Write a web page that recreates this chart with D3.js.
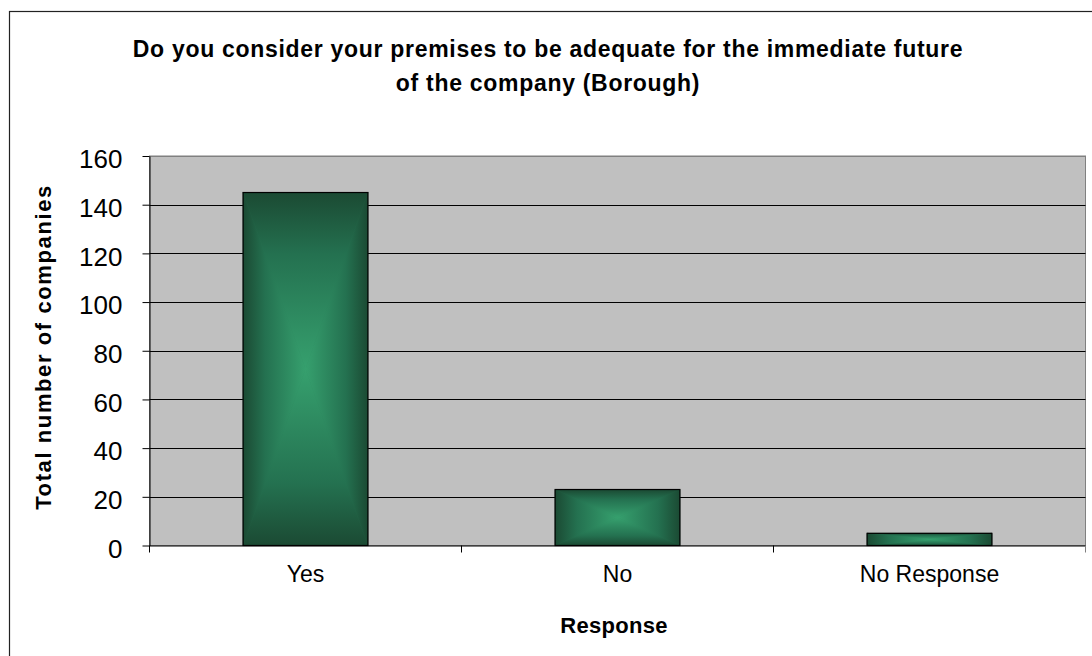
<!DOCTYPE html>
<html><head><meta charset="utf-8">
<script src="https://cdn.jsdelivr.net/npm/d3@7/dist/d3.min.js"></script>
<style>
html,body{margin:0;padding:0;background:#fff;}
svg{display:block;}
text{font-family:"Liberation Sans",Arial,sans-serif;fill:#000;}
</style></head>
<body>
<script>
const categories = ["Yes", "No", "No Response"];
const values = [145, 23, 5];
const yTicks = [0, 20, 40, 60, 80, 100, 120, 140, 160];
const titleLines = ["Do you consider your premises to be adequate for the immediate future", "of the company (Borough)"];
const yTitle = "Total number of companies";
const xTitle = "Response";

const W = 1092, H = 656;
const plot = {left: 149.5, right: 1085.5, top: 156, bottom: 545.5};

const svg = d3.select("body").append("svg").attr("width", W).attr("height", H);
svg.append("rect").attr("width", W).attr("height", H).attr("fill", "#fff");
// outer chart frame (cropped at right/bottom)
svg.append("rect").attr("x", 9.5).attr("y", 11.5).attr("width", 1200).attr("height", 800)
  .attr("fill", "none").attr("stroke", "#222").attr("stroke-width", 1.2);

const x = d3.scaleBand().domain(categories).range([plot.left, plot.right]).padding(0);
const y = d3.scaleLinear().domain([0, 160]).range([plot.bottom, plot.top]);

// plot background
svg.append("rect").attr("x", plot.left).attr("y", plot.top)
  .attr("width", plot.right - plot.left).attr("height", plot.bottom - plot.top)
  .attr("fill", "#c0c0c0").attr("stroke", "#808080").attr("stroke-width", 1);

// gridlines
svg.append("g").selectAll("line").data(yTicks.filter(d => d > 0)).join("line")
  .attr("x1", plot.left).attr("x2", plot.right)
  .attr("y1", d => Math.round(y(d)) + 0.5).attr("y2", d => Math.round(y(d)) + 0.5)
  .attr("stroke", d => d === 160 ? "#808080" : "#000").attr("stroke-width", 1);

// gradients
const defs = svg.append("defs");
const dark = "#1b4a33", mid = "#247150", light = "#36a06e";
function grad(id, x1, y1, x2, y2) {
  const g = defs.append("linearGradient").attr("id", id)
    .attr("x1", x1).attr("y1", y1).attr("x2", x2).attr("y2", y2);
  g.append("stop").attr("offset", "0").attr("stop-color", dark);
  g.append("stop").attr("offset", "0.35").attr("stop-color", mid);
  g.append("stop").attr("offset", "1").attr("stop-color", light);
}
grad("gTop", 0, 0, 0, 1);
grad("gBottom", 0, 1, 0, 0);
grad("gLeft", 0, 0, 1, 0);
grad("gRight", 1, 0, 0, 0);

const bw = x.bandwidth() * 0.4;
const bars = svg.append("g").selectAll("g").data(categories.map((c, i) => ({c, v: values[i]}))).join("g");
bars.each(function(d) {
  const g = d3.select(this);
  const x0 = x(d.c) + x.bandwidth() * 0.3, x1 = x0 + bw;
  const y0 = y(d.v), y1 = y(0);
  const cx = (x0 + x1) / 2, cy = (y0 + y1) / 2;
  g.append("rect").attr("x", x0).attr("y", y0).attr("width", bw).attr("height", y1 - y0).attr("fill", mid);
  const tris = [
    {p: [[x0, y0], [x1, y0], [cx, cy]], f: "gTop"},
    {p: [[x0, y1], [x1, y1], [cx, cy]], f: "gBottom"},
    {p: [[x0, y0], [x0, y1], [cx, cy]], f: "gLeft"},
    {p: [[x1, y0], [x1, y1], [cx, cy]], f: "gRight"}
  ];
  tris.forEach(t => g.append("path").attr("d", d3.line()(t.p) + "Z")
    .attr("fill", `url(#${t.f})`).attr("stroke", `url(#${t.f})`).attr("stroke-width", 0.6));
  g.append("rect").attr("x", x0).attr("y", y0).attr("width", bw).attr("height", y1 - y0)
    .attr("fill", "none").attr("stroke", "#000").attr("stroke-width", 1.2);
});

// y axis
const yAxis = svg.append("g").attr("transform", `translate(${plot.left},0)`)
  .call(d3.axisLeft(y).tickValues(yTicks).tickSize(7).tickSizeOuter(0).tickPadding(20));
yAxis.select(".domain").attr("stroke", "#000");
yAxis.selectAll(".tick line").attr("stroke", "#000");
yAxis.selectAll("text").attr("font-size", 26).attr("dy", "0.45em")
  .style("font-family", '"Liberation Sans",Arial,sans-serif');

// x axis
const xAxis = svg.append("g").attr("transform", `translate(0,${plot.bottom})`)
  .call(d3.axisBottom(x).tickSize(0).tickPadding(30));
xAxis.select(".domain").attr("stroke", "#000");
xAxis.selectAll("text").attr("font-size", 23).attr("dy", "0.3em")
  .style("font-family", '"Liberation Sans",Arial,sans-serif');
const bounds = categories.map(c => x(c)).concat([plot.right]);
svg.append("g").selectAll("line").data(bounds).join("line")
  .attr("x1", d => d).attr("x2", d => d).attr("y1", plot.bottom).attr("y2", plot.bottom + 7)
  .attr("stroke", d => d === plot.right ? "#808080" : "#000");

// titles
svg.append("text").attr("text-anchor", "middle").attr("font-weight", "bold").attr("font-size", 23)
  .attr("letter-spacing", 0.7)
  .selectAll("tspan").data(titleLines).join("tspan")
  .attr("x", 548).attr("y", (d, i) => 57 + i * 33.5).text(d => d);

svg.append("text").attr("transform", "translate(51,347) rotate(-90)")
  .attr("text-anchor", "middle").attr("font-weight", "bold").attr("font-size", 22)
  .attr("letter-spacing", 1.6).text(yTitle);

svg.append("text").attr("x", 614).attr("y", 633).attr("text-anchor", "middle")
  .attr("font-weight", "bold").attr("font-size", 22).attr("letter-spacing", 0.3).text(xTitle);
</script>
</body></html>
